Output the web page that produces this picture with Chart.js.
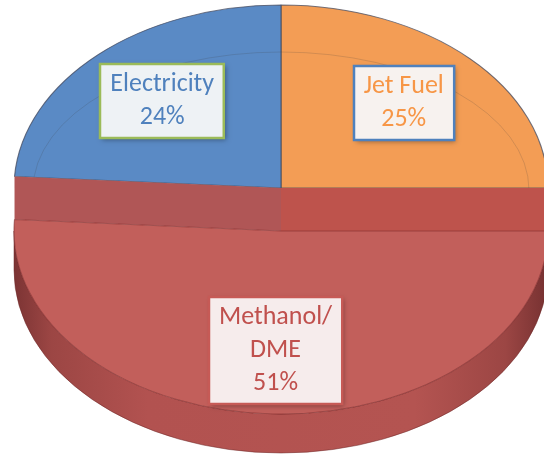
<!DOCTYPE html>
<html>
<head>
<meta charset="utf-8">
<script src="https://cdn.jsdelivr.net/npm/chart.js@4.4.1/dist/chart.umd.min.js"></script>
<style>
  html, body { margin: 0; padding: 0; background: #fff; }
  #wrap { width: 544px; height: 454px; }
</style>
</head>
<body>
<div id="wrap"><canvas id="pie" width="544" height="454"></canvas></div>
<script>
// shares of each end use (%)
const categories = ["Jet Fuel", "Methanol/DME", "Electricity"];
const shares = [25, 51, 24];

// slice and label colours
const sliceColors = ["#F39D55", "#C25F5B", "#5A8AC5"];
const labelText = ["#F79646", "#C0504D", "#4F81BD"];
const labelFill = ["#F7F2EF", "#F6ECEC", "#EEF2F5"];
const labelBorder = ["#4F81BD", "#C65A56", "#9BBB59"];

// projected geometry of the tilted disc
const face = { x: 281, y: 188, rx: 267, ry: 183 };
const drop = 43;    // how far the front slice is pulled toward the viewer
const depth = 39;   // thickness of the disc
const pulled = 1;   // index of the pulled-out slice
const labelFont = "26px Carlito, Calibri, Lato, sans-serif";
const lineH = 33;

function drawSlice(ctx, arc, dy) {
  const r = arc.outerRadius;
  ctx.save();
  ctx.translate(face.x, face.y + dy);
  ctx.scale(face.rx / r, face.ry / r);
  ctx.translate(-arc.x, -arc.y);
  arc.draw(ctx);
  ctx.restore();
}

function rim(a, dy) {
  return [face.x + face.rx * Math.cos(a), face.y + dy + face.ry * Math.sin(a)];
}

// cut faces of the slices left behind
function drawBackWalls(ctx, arcs) {
  const front = arcs[pulled];
  const right = rim(front.startAngle, 0);
  const left = rim(front.endAngle, 0);
  const c = [face.x, face.y];
  const walls = [[left, "#B05656"], [right, "#BE534C"]];
  walls.forEach(([p, col]) => {
    ctx.beginPath();
    ctx.moveTo(p[0], p[1]);
    ctx.lineTo(c[0], c[1]);
    ctx.lineTo(c[0], c[1] + drop);
    ctx.lineTo(p[0], p[1] + drop);
    ctx.closePath();
    ctx.fillStyle = col;
    ctx.fill();
  });
}

// curved outer side of the pulled-out slice
function drawSide(ctx, arc) {
  const a0 = Math.max(arc.startAngle, 0);
  const a1 = Math.min(arc.endAngle, Math.PI);
  const g = ctx.createLinearGradient(face.x - face.rx, 0, face.x + face.rx, 0);
  g.addColorStop(0, "#7C3434");
  g.addColorStop(0.07, "#9C4644");
  g.addColorStop(0.25, "#B25250");
  g.addColorStop(0.75, "#B45451");
  g.addColorStop(0.92, "#9C4644");
  g.addColorStop(1, "#763131");
  ctx.beginPath();
  ctx.ellipse(face.x, face.y + drop, face.rx, face.ry, 0, a0, a1);
  ctx.ellipse(face.x, face.y + drop + depth, face.rx, face.ry, 0, a1, a0, true);
  ctx.closePath();
  ctx.fillStyle = g;
  ctx.fill();
  ctx.strokeStyle = "rgba(110,40,40,0.5)";
  ctx.lineWidth = 1;
  ctx.stroke();
}

const tiltPlugin = {
  id: "tilt",
  beforeDatasetsDraw(chart) {
    const ctx = chart.ctx;
    const arcs = chart.getDatasetMeta(0).data;
    arcs.forEach((arc, i) => { if (i !== pulled) drawSlice(ctx, arc, 0); });
    // faint bevel line on the rear slices
    ctx.save();
    ctx.beginPath();
    ctx.ellipse(face.x, face.y + 2, 248, 138, 0, Math.PI, 2 * Math.PI);
    ctx.strokeStyle = "rgba(60,60,60,0.18)";
    ctx.lineWidth = 1;
    ctx.stroke();
    ctx.restore();
    drawBackWalls(ctx, arcs);
    drawSide(ctx, arcs[pulled]);
    drawSlice(ctx, arcs[pulled], drop);
    return false;
  },
  afterDraw(chart) {
    const ctx = chart.ctx;
    const arcs = chart.getDatasetMeta(0).data;
    ctx.save();
    ctx.font = labelFont;
    ctx.textAlign = "center";
    ctx.textBaseline = "middle";
    arcs.forEach((arc, i) => {
      const mid = (arc.startAngle + arc.endAngle) / 2;
      const dy = i === pulled ? drop : 0;
      const px = face.x + face.rx * 0.65 * Math.cos(mid);
      const py = face.y + dy + face.ry * 0.655 * Math.sin(mid);
      const lines = categories[i].replace("/", "/\n").split("\n");
      lines.push(shares[i] + "%");
      const w = Math.max(...lines.map(t => ctx.measureText(t).width)) + 20;
      const h = lines.length * lineH + 8;
      const x0 = Math.round(px - w / 2), y0 = Math.round(py - h / 2);
      ctx.save();
      ctx.shadowColor = "rgba(0,0,0,0.35)";
      ctx.shadowBlur = 5;
      ctx.shadowOffsetX = 2;
      ctx.shadowOffsetY = 2;
      ctx.fillStyle = labelFill[i];
      ctx.fillRect(x0, y0, w, h);
      ctx.restore();
      ctx.strokeStyle = labelBorder[i];
      ctx.lineWidth = 2.5;
      ctx.strokeRect(x0, y0, w, h);
      ctx.fillStyle = labelText[i];
      lines.forEach((t, k) => ctx.fillText(t, px, y0 + 4 + lineH * (k + 0.5)));
    });
    ctx.restore();
  }
};

new Chart(document.getElementById("pie"), {
  type: "pie",
  data: {
    labels: categories,
    datasets: [{
      data: shares,
      backgroundColor: sliceColors,
      borderColor: ["rgba(70,75,95,0.75)", "rgba(130,45,45,0.6)", "rgba(70,75,95,0.75)"],
      borderWidth: 1
    }]
  },
  options: {
    responsive: false,
    animation: false,
    events: [],
    layout: { padding: 0 },
    plugins: { legend: { display: false }, tooltip: { enabled: false } }
  },
  plugins: [tiltPlugin]
});
</script>
</body>
</html>
